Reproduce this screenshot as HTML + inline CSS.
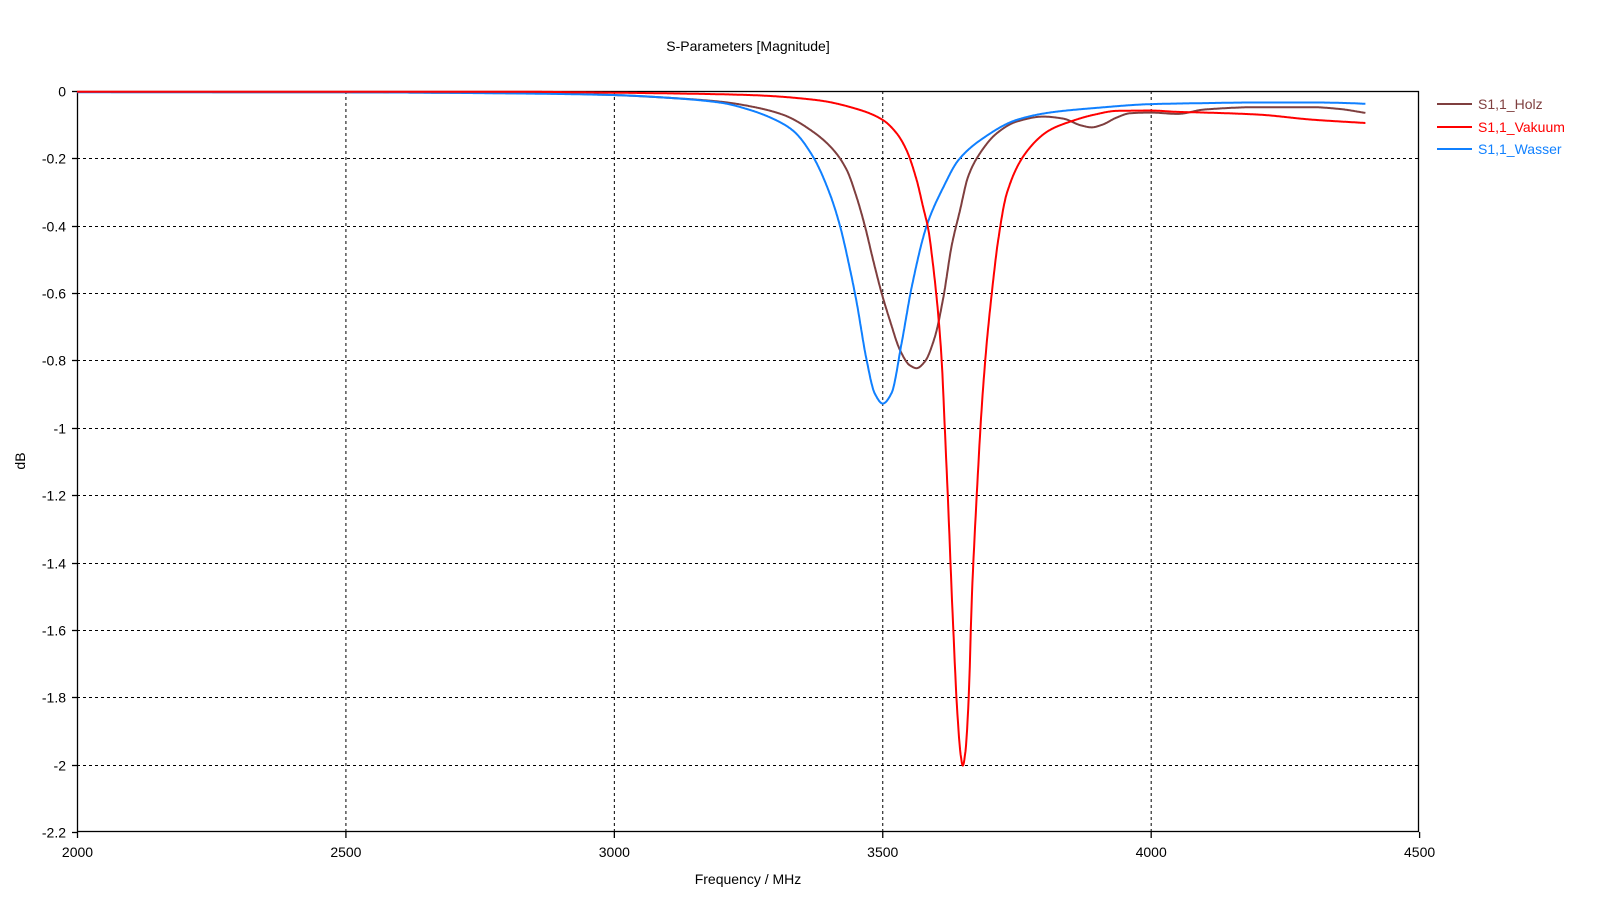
<!DOCTYPE html>
<html><head><meta charset="utf-8"><style>
html,body{margin:0;padding:0;background:#fff;}
svg{display:block;font-family:"Liberation Sans","DejaVu Sans",sans-serif;}
</style></head><body>
<svg id="s" width="1600" height="900" viewBox="0 0 1600 900" xmlns="http://www.w3.org/2000/svg">
<rect width="1600" height="900" fill="#fff"/>
<text x="748" y="51" font-size="14" text-anchor="middle" fill="#000">S-Parameters [Magnitude]</text>
<g id="grid" stroke="#000" stroke-width="1" stroke-dasharray="3,3"></g>
<rect x="77.5" y="91.5" width="1341" height="740" fill="none" stroke="#000" stroke-width="1.3"/>
<g id="ticks" stroke="#000" stroke-width="1.3"></g>
<g id="labels" font-size="14" fill="#000"></g>
<text x="748" y="884" font-size="14" text-anchor="middle">Frequency / MHz</text>
<text transform="translate(25,461) rotate(-90)" font-size="14" text-anchor="middle">dB</text>
<g id="curves" fill="none" stroke-width="2" stroke-linejoin="round"></g>
<g font-size="14">
<line x1="1437" y1="104" x2="1472" y2="104" stroke="#7f3f3f" stroke-width="2"/>
<text x="1478" y="109" fill="#7f3f3f">S1,1_Holz</text>
<line x1="1437" y1="127" x2="1472" y2="127" stroke="#ff0000" stroke-width="2"/>
<text x="1478" y="132" fill="#ff0000">S1,1_Vakuum</text>
<line x1="1437" y1="149" x2="1472" y2="149" stroke="#1080ff" stroke-width="2"/>
<text x="1478" y="154" fill="#1080ff">S1,1_Wasser</text>
</g>
</svg>
<script>
var NS="http://www.w3.org/2000/svg";
function X(f){return 77+(f-2000)*0.53684;}
function Y(d){return 91-d*336.8;}
function el(p,t,a,txt){var e=document.createElementNS(NS,t);for(var k in a)e.setAttribute(k,a[k]);if(txt!==undefined)e.textContent=txt;document.getElementById(p).appendChild(e);}
for(var i=1;i<=4;i++){var x=X(2000+i*500)+0.5;el("grid","line",{x1:x,y1:91,x2:x,y2:832});}
for(var j=1;j<=10;j++){var y=Math.round(Y(-j*0.2))+0.5;el("grid","line",{x1:77,y1:y,x2:1419,y2:y});}
for(var i=0;i<=5;i++){var f=2000+i*500,x=X(f)+0.5;el("ticks","line",{x1:x,y1:832,x2:x,y2:838});
el("labels","text",{x:x,y:857,"text-anchor":"middle"},String(f));}
for(var j=0;j<=11;j++){var d=-j*0.2,y=Math.round(Y(d))+0.5;el("ticks","line",{x1:72,y1:y,x2:77,y2:y});
var s=j==0?"0":(j%5==0?String(-j/5):(-j*0.2).toFixed(1));
el("labels","text",{x:66,y:y+5,"text-anchor":"end"},s);}
function path(pts){
var n=pts.length,xs=pts.map(function(a){return a[0];}),ys=pts.map(function(a){return a[1];});
var dl=[],m=[];
for(var i=0;i<n-1;i++)dl.push((ys[i+1]-ys[i])/(xs[i+1]-xs[i]));
m[0]=dl[0];m[n-1]=dl[n-2];
for(var i=1;i<n-1;i++){if(dl[i-1]*dl[i]<=0)m[i]=0;else{var w1=2*(xs[i+1]-xs[i])+(xs[i]-xs[i-1]),w2=(xs[i+1]-xs[i])+2*(xs[i]-xs[i-1]);m[i]=(w1+w2)/(w1/dl[i-1]+w2/dl[i]);}}
var d="";
for(var i=0;i<n-1;i++){var h=xs[i+1]-xs[i];
for(var f=xs[i];f<xs[i+1];f+=1){var t=(f-xs[i])/h,t2=t*t,t3=t2*t;
var y=(2*t3-3*t2+1)*ys[i]+(t3-2*t2+t)*h*m[i]+(-2*t3+3*t2)*ys[i+1]+(t3-t2)*h*m[i+1];
d+=(d?"L":"M")+X(f).toFixed(1)+","+Y(y).toFixed(1);}}
d+="L"+X(xs[n-1]).toFixed(1)+","+Y(ys[n-1]).toFixed(1);
return d;}
var holz=[[2000,-0.003],[2500,-0.004],[2900,-0.008],[3000,-0.012],[3100,-0.02],[3200,-0.032],[3253,-0.045],[3316,-0.071],[3371,-0.121],[3409,-0.175],[3434,-0.235],[3452,-0.314],[3468,-0.403],[3483,-0.502],[3499,-0.601],[3514,-0.68],[3533,-0.769],[3551,-0.814],[3564,-0.823],[3579,-0.804],[3598,-0.73],[3614,-0.611],[3629,-0.462],[3645,-0.353],[3660,-0.254],[3682,-0.185],[3713,-0.126],[3750,-0.091],[3800,-0.076],[3837,-0.082],[3870,-0.102],[3890,-0.108],[3910,-0.1],[3935,-0.08],[3962,-0.066],[4000,-0.064],[4050,-0.068],[4100,-0.055],[4200,-0.048],[4300,-0.048],[4350,-0.053],[4400,-0.065]];
var vak=[[2000,-0.002],[2800,-0.002],[3000,-0.005],[3100,-0.007],[3253,-0.012],[3378,-0.027],[3458,-0.056],[3501,-0.086],[3527,-0.126],[3545,-0.175],[3564,-0.264],[3576,-0.344],[3586,-0.413],[3595,-0.522],[3604,-0.66],[3611,-0.808],[3615,-0.947],[3622,-1.2],[3631,-1.55],[3640,-1.85],[3646,-1.97],[3650,-2.003],[3655,-1.96],[3661,-1.8],[3667,-1.5],[3676,-1.2],[3685,-0.947],[3694,-0.759],[3704,-0.601],[3716,-0.442],[3732,-0.304],[3769,-0.18],[3812,-0.116],[3850,-0.091],[3893,-0.071],[3937,-0.059],[4000,-0.058],[4050,-0.062],[4100,-0.064],[4200,-0.07],[4300,-0.085],[4400,-0.095]];
var was=[[2000,-0.004],[2500,-0.004],[2800,-0.007],[3000,-0.012],[3100,-0.02],[3200,-0.035],[3253,-0.056],[3300,-0.085],[3334,-0.118],[3371,-0.195],[3402,-0.304],[3421,-0.399],[3440,-0.53],[3452,-0.625],[3471,-0.8],[3486,-0.898],[3501,-0.928],[3517,-0.898],[3536,-0.749],[3555,-0.581],[3583,-0.399],[3614,-0.285],[3642,-0.205],[3688,-0.14],[3750,-0.086],[3812,-0.064],[3900,-0.05],[4000,-0.039],[4100,-0.036],[4200,-0.034],[4300,-0.034],[4370,-0.036],[4400,-0.038]];
el("curves","path",{d:path(holz),stroke:"#7f3f3f"});
el("curves","path",{d:path(was),stroke:"#1080ff"});
el("curves","path",{d:path(vak),stroke:"#ff0000"});
</script>
</body></html>
